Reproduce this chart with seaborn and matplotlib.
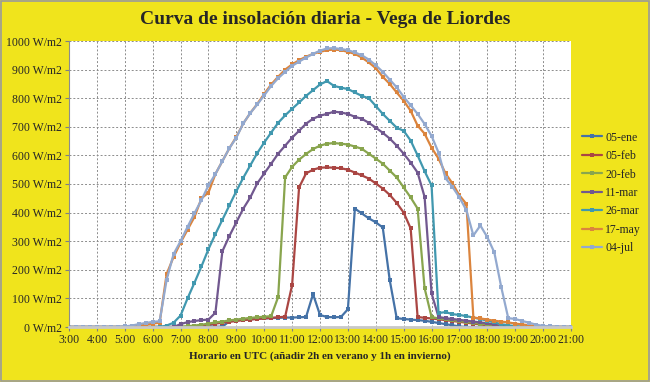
import numpy as np
import pandas as pd
import matplotlib
matplotlib.use("Agg")
import matplotlib.pyplot as plt
import seaborn as sns
from matplotlib.patches import Rectangle

# ---------- DATA (W/m2 every 15 min, 3:00 -> 21:00) ----------
hours = [3 + i * 0.25 for i in range(73)]
hour_ticks = list(range(3, 22))
hour_labels = [f"{h}:00" for h in hour_ticks]
y_ticks = list(range(0, 1001, 100))
y_labels = [f"{v} W/m2" for v in y_ticks]

series_names = ["05-ene", "05-feb", "20-feb", "11-mar", "26-mar", "17-may", "04-jul"]
series_colors = ["#4572A7", "#AA4643", "#89A54E", "#71588F", "#4198AF", "#DB843D", "#93A9CF"]

ene05 = [0] * 18 + [3, 5,
         3, 1, 1, 20,
         24, 26, 27, 29,
         30, 31, 32, 33,
         33, 34, 35, 115,
         42, 35, 34, 35,
         62, 414, 397, 380,
         366, 348, 164, 31,
         28, 26, 24, 22,
         18, 14, 10, 6,
         2] + [0] * 16

feb05 = [0] * 18 + [2, 5,
         8, 12, 15, 18,
         21, 24, 26, 28,
         30, 32, 34, 36,
         147, 488, 537, 550,
         557, 558, 557, 555,
         550, 540, 530, 519,
         502, 484, 462, 434,
         400, 345, 35, 32,
         30, 27, 24, 21,
         18, 15, 12, 9,
         6, 3, 1, 0] + [0] * 9

feb20 = [0] * 16 + [1, 3, 5, 8,
         12, 16, 19, 23,
         26, 29, 32, 34,
         36, 38, 105, 523,
         560, 585, 605, 622,
         634, 641, 643, 641,
         638, 631, 623, 606,
         589, 571, 547, 523,
         488, 453, 414, 136,
         35, 30, 27, 24,
         21, 18, 15, 12,
         9, 6, 3, 1] + [0] * 9

mar11 = [0] * 16 + [10, 17, 21, 24,
         26, 50, 265, 318,
         366, 414, 453, 502,
         537, 571, 606, 634,
         662, 686, 711, 728,
         739, 745, 753, 750,
         745, 735, 728, 714,
         697, 679, 659, 634,
         606, 575, 540, 455,
         118, 35, 31, 28,
         25, 22, 19, 16,
         13, 8, 4, 1] + [0] * 9

mar26 = [0] * 13 + [0, 5, 15,
         40, 100, 155, 212,
         272, 325, 375, 425,
         475, 522, 565, 608,
         645, 680, 714, 740,
         763, 785, 808, 828,
         848, 860, 843, 837,
         832, 820, 808, 800,
         773, 745, 721, 697,
         686, 652, 600, 545,
         495, 49, 52, 45,
         42, 38, 33, 28,
         22, 16, 10, 6,
         3, 1, 0, 0] + [0] * 5

may17 = [0] * 8 + [0, 2, 5, 8,
         12, 15, 185, 245,
         295, 340, 385, 450,
         470, 535, 580, 625,
         665, 712, 748, 780,
         815, 848, 875, 900,
         918, 933, 945, 955,
         962, 968, 970, 968,
         962, 955, 942, 925,
         905, 875, 850, 820,
         791, 756, 704, 676,
         627, 589, 537, 502,
         460, 430, 33, 30,
         26, 22, 19, 16,
         12, 9, 6, 3,
         1, 0, 0, 0,
         0]

jul04 = [0] * 8 + [2, 5, 10, 14,
         18, 20, 165, 255,
         300, 350, 398, 444,
         495, 535, 580, 625,
         662, 712, 748, 778,
         810, 843, 870, 892,
         913, 928, 942, 955,
         966, 974, 975, 972,
         968, 960, 950, 935,
         915, 892, 865, 838,
         805, 775, 745, 710,
         668, 610, 520, 490,
         453, 408, 320, 355,
         314, 261, 139, 31,
         28, 21, 15, 8,
         4, 2, 0, 0,
         0]

series_values = [ene05, feb05, feb20, mar11, mar26, may17, jul04]

# ---------- STYLE ----------
sns.set_theme(style="white")
plt.rcParams["font.family"] = ["Liberation Serif", "DejaVu Serif"]

bg = "#F0E41C"
fig = plt.figure(figsize=(6.5, 3.82), dpi=100, facecolor=bg)
ax = fig.add_axes([69 / 650, 1 - 327 / 382, (571 - 69) / 650, (327 - 41) / 382])
ax.set_facecolor("white")

for name, color, vals in zip(series_names, series_colors, series_values):
    df = pd.DataFrame({"hora": hours, "w": vals})
    sns.lineplot(data=df, x="hora", y="w", ax=ax, color=color, marker="s",
                 markersize=3.2, markeredgewidth=0, linewidth=1.6, label=name,
                 errorbar=None)

ax.set_xlim(3, 21)
ax.set_ylim(0, 1000)
ax.set_xticks(hour_ticks)
ax.set_xticklabels(hour_labels, fontsize=8.5)
ax.set_yticks(y_ticks)
ax.set_yticklabels(y_labels, fontsize=8.5)
ax.tick_params(axis="both", length=3, width=0.8, color="#808080", pad=2)
ax.tick_params(axis="x", bottom=True)
ax.tick_params(axis="y", left=True)

ax.grid(True, color="#8C8C8C", linestyle=(0, (2, 2)), linewidth=0.7)
for s in ["top", "right"]:
    ax.spines[s].set_visible(False)
ax.spines["left"].set_color("#8C8C8C")
ax.spines["left"].set_linewidth(0.8)
ax.spines["bottom"].set_color("#C8C8C8")
ax.spines["bottom"].set_linewidth(2.0)

ax.set_xlabel("Horario en UTC (añadir 2h en verano y 1h en invierno)",
              fontsize=8, fontweight="bold", labelpad=4)
ax.set_ylabel("")

fig.text(0.5, 1 - 19 / 382, "Curva de insolación diaria - Vega de Liordes",
         ha="center", va="center", fontsize=14, fontweight="bold")

ax.legend(loc="center left", bbox_to_anchor=(577 / 650, 1 - 193 / 382),
          bbox_transform=fig.transFigure, frameon=False, fontsize=8.5,
          handlelength=1.7, handletextpad=0.3, labelspacing=0.55,
          borderaxespad=0)

fig.patches.append(Rectangle((0.001, 0.002), 0.997, 0.995, transform=fig.transFigure,
                             fill=False, edgecolor="#9A9A9A", linewidth=1.2))

fig.savefig("out.png", dpi=100, facecolor=bg)
